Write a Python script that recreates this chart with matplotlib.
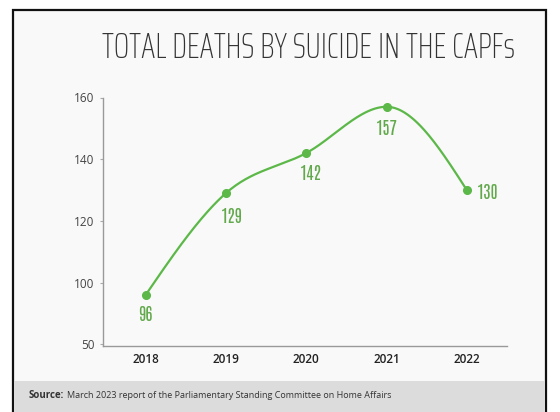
import numpy as np
import matplotlib.pyplot as plt
from matplotlib.patches import Rectangle

years = [2018, 2019, 2020, 2021, 2022]
deaths = [96, 129, 142, 157, 130]
ytick_vals = [80, 100, 120, 140, 160]
ytick_labels = ['50', '100', '120', '140', '160']

title = 'TOTAL DEATHS BY SUICIDE IN THE CAPFs'
source = 'March 2023 report of the Parliamentary Standing Committee on Home Affairs'

green = '#5cb848'
label_green = '#62a94c'
W, H = 560, 412

fig = plt.figure(figsize=(5.6, 4.12), dpi=100)
fig.patch.set_facecolor('white')
renderer = fig.canvas.get_renderer()

def fit_width(txt, target_px):
    w = txt.get_window_extent(renderer).width
    txt.set_fontsize(txt.get_fontsize() * target_px / w)

# outer frame + source bar
frame = Rectangle((13/W, -0.01), 533/W, 1 - 10/H + 0.01, transform=fig.transFigure,
                  facecolor='#f9f9f9', edgecolor='#111111', lw=1.6, zorder=0)
fig.patches.append(frame)
bar = Rectangle((14/W, 0), 531/W, 31/H, transform=fig.transFigure,
                facecolor='#dcdcdc', edgecolor='none', zorder=1)
fig.patches.append(bar)

src_b = fig.text(29/W, 16/H, 'Source:', fontsize=7, color='#333333', va='center',
                 family='Open Sans', fontweight='bold', zorder=2)
bw = src_b.get_window_extent(renderer).width
src_t = fig.text((29 + bw + 3)/W, 16/H, source, fontsize=7, color='#333333', va='center',
                 family='Open Sans', zorder=2)
fit_width(src_t, 364 - bw - 3)

ttl = fig.text(309/W, 1 - 48/H, title, ha='center', va='center',
               fontsize=26, color='#333333', fontweight=200,
               family=['Saira ExtraCondensed', 'Barlow Condensed', 'DejaVu Sans'], zorder=2)
fit_width(ttl, 412)

ax = fig.add_axes([103/W, 1 - 346/H, 404/W, 248.5/H], zorder=3)
ax.set_facecolor('none')

# smooth monotone curve through the points
x = np.arange(len(years), dtype=float)
y = np.array(deaths, dtype=float)
s = np.diff(y)
tang = np.zeros_like(y)
for i in range(1, len(y) - 1):
    p = (s[i-1] + s[i]) / 2
    tang[i] = (np.sign(s[i-1]) + np.sign(s[i])) * min(abs(s[i-1]), abs(s[i]), 0.5 * abs(p))
tang[0] = (3 * s[0] - tang[1]) / 2
tang[-1] = (3 * s[-1] - tang[-2]) / 2
t = np.linspace(0, 1, 50)
xs, ys = [], []
for i in range(len(x) - 1):
    h00 = 2*t**3 - 3*t**2 + 1
    h10 = t**3 - 2*t**2 + t
    h01 = -2*t**3 + 3*t**2
    h11 = t**3 - t**2
    xs.extend(x[i] + t)
    ys.extend(h00*y[i] + h10*tang[i] + h01*y[i+1] + h11*tang[i+1])
ax.plot(xs, ys, color=green, lw=1.6, zorder=3)
ax.plot(x, y, 'o', color=green, ms=5.5, zorder=4)

offsets = [(0, -14), (4.5, -17), (3, -15), (0, -15.5), (15, -2)]
for xi, yi, (dx, dy) in zip(x, deaths, offsets):
    ax.annotate(str(yi), (xi, yi), xytext=(dx, dy), textcoords='offset points',
                ha='center', va='center', fontsize=12.5, color=label_green,
                family=['Antonio', 'DejaVu Sans'])

ax.set_xlim(-0.53, 4.5)
ax.set_ylim(79.5, 160)
ax.set_xticks(x)
ax.set_xticklabels([str(v) for v in years], fontsize=8.5, color='#222222', family='Open Sans',
                   fontweight='semibold')
ax.set_yticks(ytick_vals)
ax.set_yticklabels(ytick_labels, fontsize=8.5, color='#444444', family='Open Sans')
ax.tick_params(axis='x', length=0, pad=5)
ax.tick_params(axis='y', length=2, color='#aaaaaa', pad=4)
for sp in ['top', 'right']:
    ax.spines[sp].set_visible(False)
for sp in ['left', 'bottom']:
    ax.spines[sp].set_color('#999999')
    ax.spines[sp].set_linewidth(1)

fig.savefig('out.png', dpi=100)
